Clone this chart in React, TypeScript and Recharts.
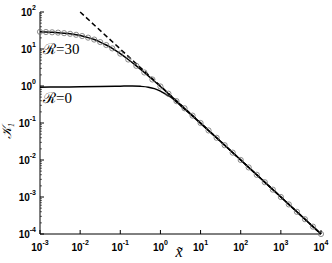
import { LineChart, Line, XAxis, YAxis } from "recharts";

// R = 30 curve, sampled where the open circles sit
const r30X = [
  0.001, 0.00141, 0.002, 0.00282, 0.00398, 0.00562, 0.00794, 0.0112, 0.0158, 0.0224, 0.0316, 0.0447, 0.0631,
  0.1, 0.158, 0.251, 0.398, 0.631, 1, 1.58, 2.51, 3.98, 6.31, 10, 15.8, 25.1, 39.8, 63.1, 100, 158, 251, 398,
  631, 1000, 1580, 2510, 3980, 6310, 10000,
];
const r30Y = [
  29.1, 28.8, 28.3, 27.7, 26.8, 25.7, 24.2, 22.4, 20.3, 18.0, 15.4, 12.8, 10.4, 7.5, 5.2, 3.5, 2.32, 1.5, 0.97,
  0.62, 0.39, 0.25, 0.158, 0.1, 0.063, 0.0398, 0.0251, 0.0158, 0.01, 0.0063, 0.00398, 0.00251, 0.00158, 0.001,
  0.00063, 0.000398, 0.000251, 0.000158, 0.0001,
];

// R = 0 curve
const r0X = [0.001, 0.00316, 0.01, 0.0316, 0.1, 0.2, 0.316, 0.5, 0.708, 1, 1.41, 2, 2.82, 3.98, 6.31, 10, 31.6, 100, 1000, 10000];
const r0Y = [0.93, 0.94, 0.95, 0.97, 0.99, 1.0, 0.98, 0.93, 0.85, 0.73, 0.58, 0.46, 0.33, 0.235, 0.153, 0.098, 0.0316, 0.01, 0.001, 0.0001];

// dashed asymptote
const asymX = [0.01, 10000];
const asymY = [100, 0.0001];

const xTicks = [0.001, 0.01, 0.1, 1, 10, 100, 1000, 10000];
const yMajor = [0.0001, 0.001, 0.01, 0.1, 1, 10, 100];
const yMinorFactors = [2, 3, 4, 5, 6, 7, 8, 9];

const yTicks = [
  ...yMajor,
  ...yMajor.slice(0, -1).flatMap((d) => yMinorFactors.map((f) => d * f)),
].sort((a, b) => a - b);

const zip = (xs: number[], ys: number[]) => xs.map((x, i) => ({ x, y: ys[i] }));

const r30Data = zip(r30X, r30Y);
const r0Data = zip(r0X, r0Y);
const asymData = zip(asymX, asymY);

const SANS = "'Liberation Sans', Arial, Helvetica, sans-serif";
const SERIF = "'Liberation Serif', 'Times New Roman', 'DejaVu Serif', serif";

const decade = (v: number) => Math.round(Math.log10(v));
const isMajor = (v: number) => Math.abs(Math.log10(v) - decade(v)) < 1e-6;

function BottomTick(props: any) {
  const { x, y, payload } = props;
  return (
    <g>
      <line x1={x} x2={x} y1={y} y2={y - 4} stroke="#000" />
      <text x={x} y={y + 17} textAnchor="middle" fontFamily={SANS} fontWeight="bold" fontSize={10} fill="#000">
        10
        <tspan dy={-6} fontSize={7}>
          {decade(payload.value)}
        </tspan>
      </text>
    </g>
  );
}

function TopTick(props: any) {
  const { x, y } = props;
  return <line x1={x} x2={x} y1={y} y2={y + 4} stroke="#000" />;
}

function LeftTick(props: any) {
  const { x, y, payload } = props;
  const major = isMajor(payload.value);
  if (!major) return <line x1={x} x2={x + 2} y1={y} y2={y} stroke="#000" strokeWidth={0.6} />;
  return (
    <g>
      <line x1={x} x2={x + 4} y1={y} y2={y} stroke="#000" />
      <text x={x - 4} y={y + 4} textAnchor="end" fontFamily={SANS} fontWeight="bold" fontSize={10} fill="#000">
        10
        <tspan dy={-6} fontSize={7}>
          {decade(payload.value)}
        </tspan>
      </text>
    </g>
  );
}

function RightTick(props: any) {
  const { x, y, payload } = props;
  const len = isMajor(payload.value) ? 4 : 2;
  return <line x1={x} x2={x - len} y1={y} y2={y} stroke="#000" strokeWidth={isMajor(payload.value) ? 1 : 0.6} />;
}

export default function App() {
  return (
    <div style={{ position: "absolute", left: 0, top: 0 }}>
      <LineChart width={332} height={263} margin={{ top: 12, right: 11, bottom: 0, left: 0 }}>
        <XAxis
          xAxisId="bottom"
          dataKey="x"
          type="number"
          scale="log"
          domain={[0.001, 10000]}
          ticks={xTicks}
          interval={0}
          height={29}
          tickSize={0}
          tickMargin={0}
          tickLine={false}
          tick={BottomTick}
          axisLine={{ stroke: "#000" }}
        />
        <XAxis
          xAxisId="top"
          orientation="top"
          dataKey="x"
          type="number"
          scale="log"
          domain={[0.001, 10000]}
          ticks={xTicks}
          interval={0}
          height={0}
          tickSize={0}
          tickMargin={0}
          tickLine={false}
          tick={TopTick}
          axisLine={{ stroke: "#000" }}
        />
        <YAxis
          yAxisId="left"
          type="number"
          scale="log"
          domain={[0.0001, 100]}
          ticks={yTicks}
          interval={0}
          width={40}
          tickSize={0}
          tickMargin={0}
          tickLine={false}
          tick={LeftTick}
          axisLine={{ stroke: "#000" }}
        />
        <YAxis
          yAxisId="right"
          orientation="right"
          type="number"
          scale="log"
          domain={[0.0001, 100]}
          ticks={yTicks}
          interval={0}
          width={0}
          tickSize={0}
          tickMargin={0}
          tickLine={false}
          tick={RightTick}
          axisLine={{ stroke: "#000" }}
        />
        <Line
          xAxisId="bottom"
          yAxisId="left"
          data={asymData}
          dataKey="y"
          type="linear"
          stroke="#000"
          strokeWidth={1.5}
          strokeDasharray="5 3"
          dot={false}
          isAnimationActive={false}
        />
        <Line
          xAxisId="bottom"
          yAxisId="left"
          data={r0Data}
          dataKey="y"
          type="monotone"
          stroke="#000"
          strokeWidth={1.5}
          dot={false}
          isAnimationActive={false}
        />
        <Line
          xAxisId="bottom"
          yAxisId="left"
          data={r30Data}
          dataKey="y"
          type="monotone"
          stroke="#000"
          strokeWidth={1.5}
          dot={{ r: 2.6, stroke: "#6e6e6e", strokeWidth: 0.8, fill: "none" }}
          isAnimationActive={false}
        />
        <text x={43} y={54} fontFamily={SERIF} fontSize={15} fill="#000">
          ℛ=30
        </text>
        <text x={43} y={103} fontFamily={SERIF} fontSize={15} fill="#000">
          ℛ=0
        </text>
        <text x={179} y={257} textAnchor="middle" fontFamily={SERIF} fontStyle="italic" fontSize={16} fill="#000">
          x̃
        </text>
        <text
          transform="translate(11,131) rotate(-90)"
          textAnchor="middle"
          fontFamily={SERIF}
          fontStyle="italic"
          fontSize={13}
          fill="#000"
        >
          𝒦
          <tspan fontSize={8} dy={3}>
            1
          </tspan>
        </text>
      </LineChart>
    </div>
  );
}
